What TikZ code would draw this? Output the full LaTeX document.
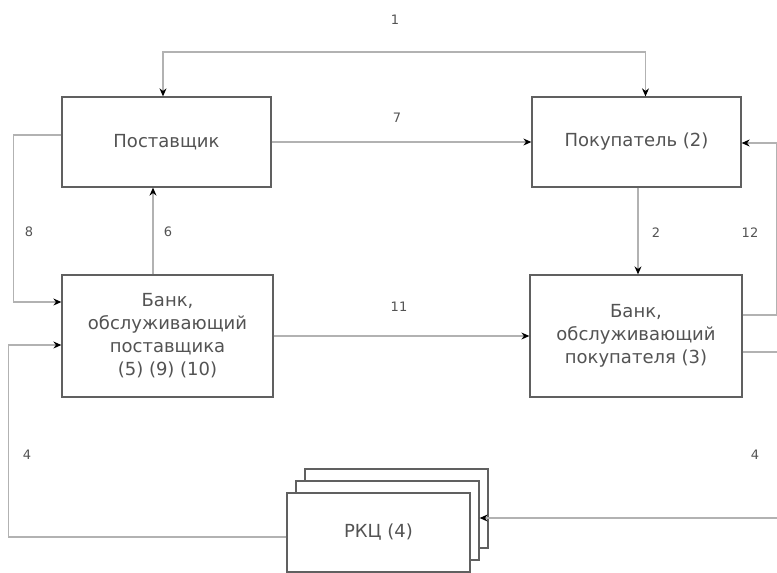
\documentclass[tikz,border=0pt]{standalone}
\usepackage{fontspec}
\setmainfont{DejaVu Sans}
\usetikzlibrary{arrows.meta}

\tikzset{
  blockbox/.style={rectangle, draw=gray!75!black, line width=1.3pt, fill=white,
    text=gray!65!black, align=center, font=\fontsize{18}{23}\selectfont},
  conn/.style={draw=gray!60, line width=1.1pt, arrows={-Stealth[length=8pt, width=7pt, black]}},
  bothconn/.style={draw=gray!60, line width=1.1pt,
    arrows={Stealth[length=8pt, width=7pt, black]-Stealth[length=8pt, width=7pt, black]}},
  lbl/.style={text=gray!65!black, font=\fontsize{13}{15}\selectfont}
}

\begin{document}
\begin{tikzpicture}[x=1pt, y=-1pt]
    \useasboundingbox (0,0) rectangle (777,573);
    \clip (0,0) rectangle (777,573);

    % Top row
    \node[blockbox, minimum width=209pt, minimum height=90pt] (sup) at (166.5,142) {Поставщик};
    \node[blockbox, minimum width=209pt, minimum height=90pt] (buy) at (636.5,142) {Покупатель (2)};

    % Banks
    \node[blockbox, minimum width=211pt, minimum height=122pt] (bsup) at (167.5,336)
        {Банк,\\обслуживающий\\поставщика\\(5) (9) (10)};
    \node[blockbox, minimum width=212pt, minimum height=122pt] (bbuy) at (636,336)
        {Банк,\\обслуживающий\\покупателя (3)};

    % RKC (stacked)
    \foreach \i/\dx/\dy in {2/18/-24, 1/9/-12} {
        \node[blockbox, minimum width=183pt, minimum height=79pt] (rkc\i) at (378.5+\dx,532.5+\dy) {};
    }
    \node[blockbox, minimum width=183pt, minimum height=79pt] (rkc) at (378.5,532.5) {РКЦ (4)};

    % Connections
    \coordinate (top) at (400,52);
    \draw[bothconn] ([xshift=-3.5pt]sup.north) |- (top) -| ([xshift=9pt]buy.north);
    \draw[conn] (sup.east) -- (buy.west);
    \draw[conn] ([xshift=1.5pt]buy.south) -- ([xshift=1.5pt]buy.south |- bbuy.north);
    \draw[conn] ([xshift=-14.5pt]bsup.north) -- ([xshift=-14.5pt]bsup.north |- sup.south);
    \draw[conn] ([yshift=7pt]sup.west) -- ++(-48,0) |- ([yshift=34pt]bsup.west);
    \draw[conn] (bsup.east) -- (bbuy.west);
    \draw[conn] ([yshift=-4.5pt]rkc.west) -- ++(-278,0) |- ([yshift=-9pt]bsup.west);
    \draw[conn] ([yshift=21pt]bbuy.east) -- ++(34,0) |- ([yshift=-1pt]buy.east);
    \draw[conn] ([yshift=-16pt]bbuy.east) -- ++(40,0) |- ([yshift=2.5pt]rkc1.east);

    % Labels
    \node[lbl] (l1) at (395,20) {1};
    \node[lbl] (l7) at (397,118) {7};
    \node[lbl] (l2) at (656,233) {2};
    \node[lbl] (l12) at (750,233) {12};
    \node[lbl] (l6) at (168,232) {6};
    \node[lbl] (l8) at (29,232) {8};
    \node[lbl] (l11) at (399,307) {11};
    \node[lbl] (l4a) at (27,455) {4};
    \node[lbl] (l4b) at (755,455) {4};
\end{tikzpicture}
\end{document}
